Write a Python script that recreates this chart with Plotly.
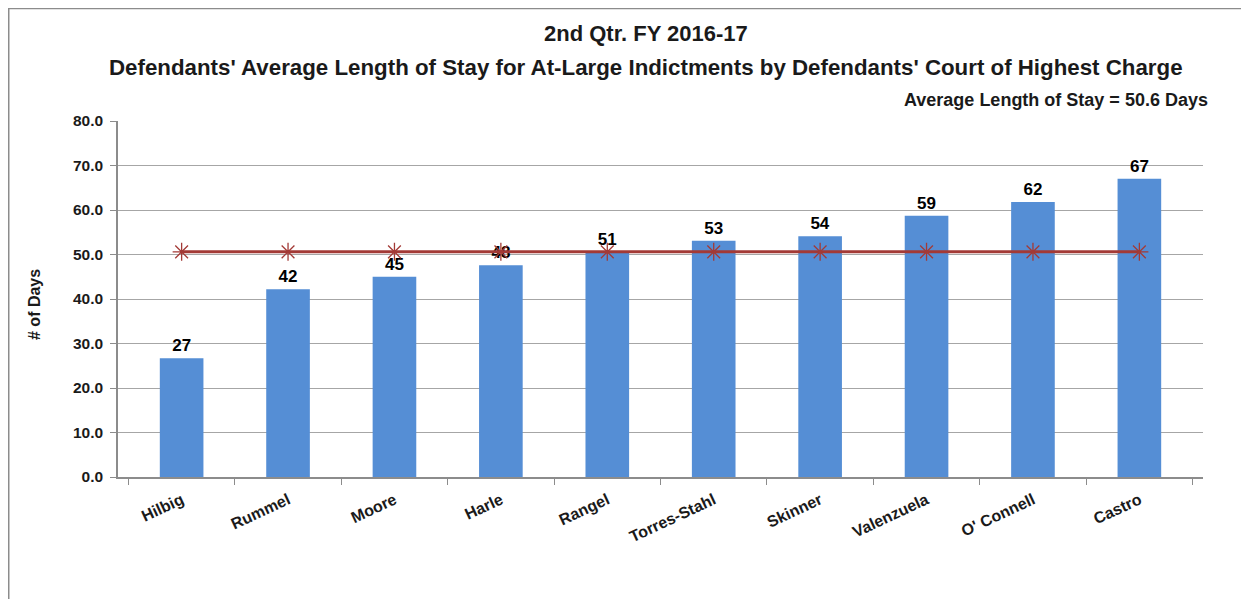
import plotly.graph_objects as go

categories = ["Hilbig", "Rummel", "Moore", "Harle", "Rangel", "Torres-Stahl",
              "Skinner", "Valenzuela", "O' Connell", "Castro"]
avg_stay = [26.7, 42.2, 45.0, 47.6, 50.6, 53.1, 54.1, 58.7, 61.8, 67.0]
bar_labels = ["27", "42", "45", "48", "51", "53", "54", "59", "62", "67"]
overall_avg = [50.6] * len(categories)

title_line1 = "2nd Qtr. FY 2016-17"
title_line2 = "Defendants' Average Length of Stay for At-Large Indictments by Defendants' Court of Highest Charge"
subtitle = "Average Length of Stay = 50.6 Days"
y_title = "# of Days"

FONT = "Liberation Sans, Arial, sans-serif"
DARK = "#1a1a1a"

fig = go.Figure()
fig.add_trace(go.Bar(
    x=categories, y=avg_stay, text=bar_labels, textposition="outside",
    textfont=dict(family=FONT, size=17, color="#000000", weight="bold"),
    marker=dict(color="#558ED5", line=dict(width=0)),
    width=0.41, cliponaxis=False, showlegend=False,
))
fig.add_trace(go.Scatter(
    x=categories, y=overall_avg, mode="lines+markers",
    line=dict(color="#A33A36", width=3),
    marker=dict(symbol="asterisk-open", size=15, color="#A33A36",
                line=dict(color="#A33A36", width=1.3)),
    showlegend=False,
))

fig.update_layout(
    width=1249, height=599,
    margin=dict(l=110, r=54, t=113, b=130),
    paper_bgcolor="white", plot_bgcolor="white",
    font=dict(family=FONT, color=DARK),
    bargap=0.59,
    xaxis=dict(
        type="category", showgrid=False,
        showline=True, linecolor="#8c8c8c", linewidth=1.5,
        ticks="outside", tickson="boundaries", ticklen=6, tickcolor="#8c8c8c",
        tickangle=-25, ticklabelstandoff=6,
        tickfont=dict(family=FONT, size=16, color=DARK, weight="bold"),
        automargin=False,
    ),
    yaxis=dict(
        range=[0, 80], dtick=10, tickformat=".1f",
        showgrid=True, gridcolor="#a6a6a6", gridwidth=1.2,
        showline=True, linecolor="#8c8c8c", linewidth=1.5,
        ticks="outside", ticklen=6, tickcolor="#8c8c8c",
        ticklabelstandoff=4,
        tickfont=dict(family=FONT, size=15.5, color=DARK, weight="bold"),
        zeroline=False, automargin=False,
    ),
    annotations=[
        dict(text="<b>" + title_line1 + "</b>", xref="paper", yref="paper",
             x=0.487, y=1.247, xanchor="center", yanchor="middle",
             showarrow=False, font=dict(family=FONT, size=22, color=DARK)),
        dict(text="<b>" + title_line2 + "</b>", xref="paper", yref="paper",
             x=0.487, y=1.149, xanchor="center", yanchor="middle",
             showarrow=False, font=dict(family=FONT, size=22.3, color=DARK)),
        dict(text="<b>" + subtitle + "</b>", xref="paper", yref="paper",
             x=1.0065, y=1.059, xanchor="right", yanchor="middle",
             showarrow=False, font=dict(family=FONT, size=18, color=DARK)),
        dict(text="<b>" + y_title + "</b>", xref="paper", yref="paper",
             x=-0.0765, y=0.486, xanchor="center", yanchor="middle",
             textangle=-90, showarrow=False,
             font=dict(family=FONT, size=16, color=DARK)),
    ],
    shapes=[dict(
        type="rect", xref="paper", yref="paper",
        x0=-0.1007, x1=1.2, y0=-0.5, y1=1.316,
        line=dict(color="#8c8c8c", width=1.5), fillcolor="rgba(0,0,0,0)",
        layer="below",
    )],
)

fig.write_html("out.html")
